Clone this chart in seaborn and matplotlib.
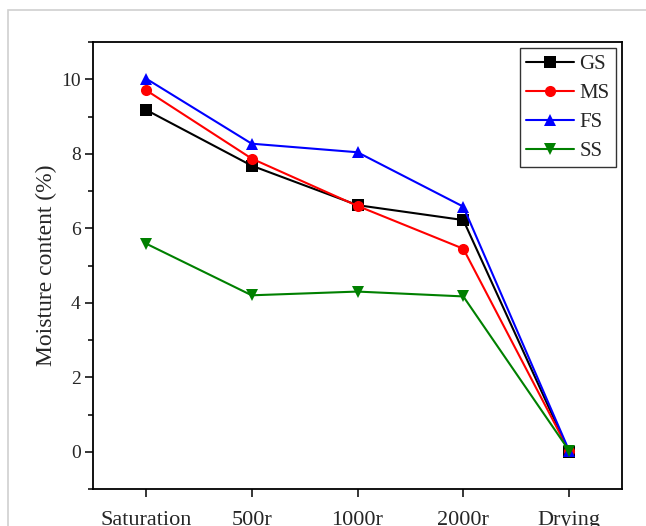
import matplotlib
matplotlib.use("Agg")
import matplotlib.pyplot as plt
import seaborn as sns
import pandas as pd
from matplotlib.patches import Rectangle
from matplotlib.ticker import MultipleLocator

categories = ["Saturation", "500r", "1000r", "2000r", "Drying"]
gs = [9.18, 7.68, 6.62, 6.22, 0.0]
ms = [9.71, 7.87, 6.60, 5.45, 0.02]
fs = [10.02, 8.27, 8.04, 6.58, 0.03]
ss = [5.59, 4.20, 4.30, 4.17, 0.03]

series = {"GS": gs, "MS": ms, "FS": fs, "SS": ss}
colors = {"GS": "black", "MS": "red", "FS": "blue", "SS": "green"}
markers = {"GS": "s", "MS": "o", "FS": "^", "SS": "v"}

rows = []
for name, vals in series.items():
    for i, v in enumerate(vals):
        rows.append({"x": i, "cat": categories[i], "value": v, "series": name})
df = pd.DataFrame(rows)

sns.set_style("ticks")
plt.rcParams["font.family"] = ["Liberation Serif", "DejaVu Serif"]

fig = plt.figure(figsize=(6.46, 5.26), dpi=100)
ax = fig.add_axes([93/646, 1-489/526, (622-93)/646, (489-42)/526])

fig.patches.append(Rectangle((8/646, -0.1), 1.2, 1.1 - 10/526, transform=fig.transFigure,
                             fill=False, edgecolor="#d0d0d0", linewidth=1.2, zorder=0))

for name in series:
    sub = df[df["series"] == name]
    sns.lineplot(data=sub, x="x", y="value", ax=ax, color=colors[name], marker=markers[name],
                 markersize=8, markeredgewidth=0, linewidth=1.5, label=name)

ax.set_xlim(-0.5, 4.5)
ax.set_ylim(-1, 11)
ax.set_xticks(range(len(categories)))
ax.set_xticklabels(categories, fontsize=16)
ax.yaxis.set_major_locator(MultipleLocator(2))
ax.yaxis.set_minor_locator(MultipleLocator(1))
ax.set_yticks([0, 2, 4, 6, 8, 10])
ax.tick_params(axis="y", labelsize=14, direction="out", length=6, width=1.1, color="black", pad=3)
ax.tick_params(axis="y", which="minor", direction="out", length=3.5, width=1.1, color="black")
ax.tick_params(axis="x", direction="out", length=6, width=1.1, color="black", pad=9.5)
ax.set_xlabel("")
ax.set_ylabel("Moisture content (%)", fontsize=17, labelpad=3)
for s in ax.spines.values():
    s.set_color("black")
    s.set_linewidth(1.3)

leg = ax.legend(loc="upper right", fontsize=15, frameon=True, fancybox=False,
                edgecolor="black", handlelength=2.3, borderaxespad=0.3,
                labelspacing=0.45, handletextpad=0.25, borderpad=0.3)
leg.get_frame().set_linewidth(1.0)

fig.savefig("out.png", dpi=100)
